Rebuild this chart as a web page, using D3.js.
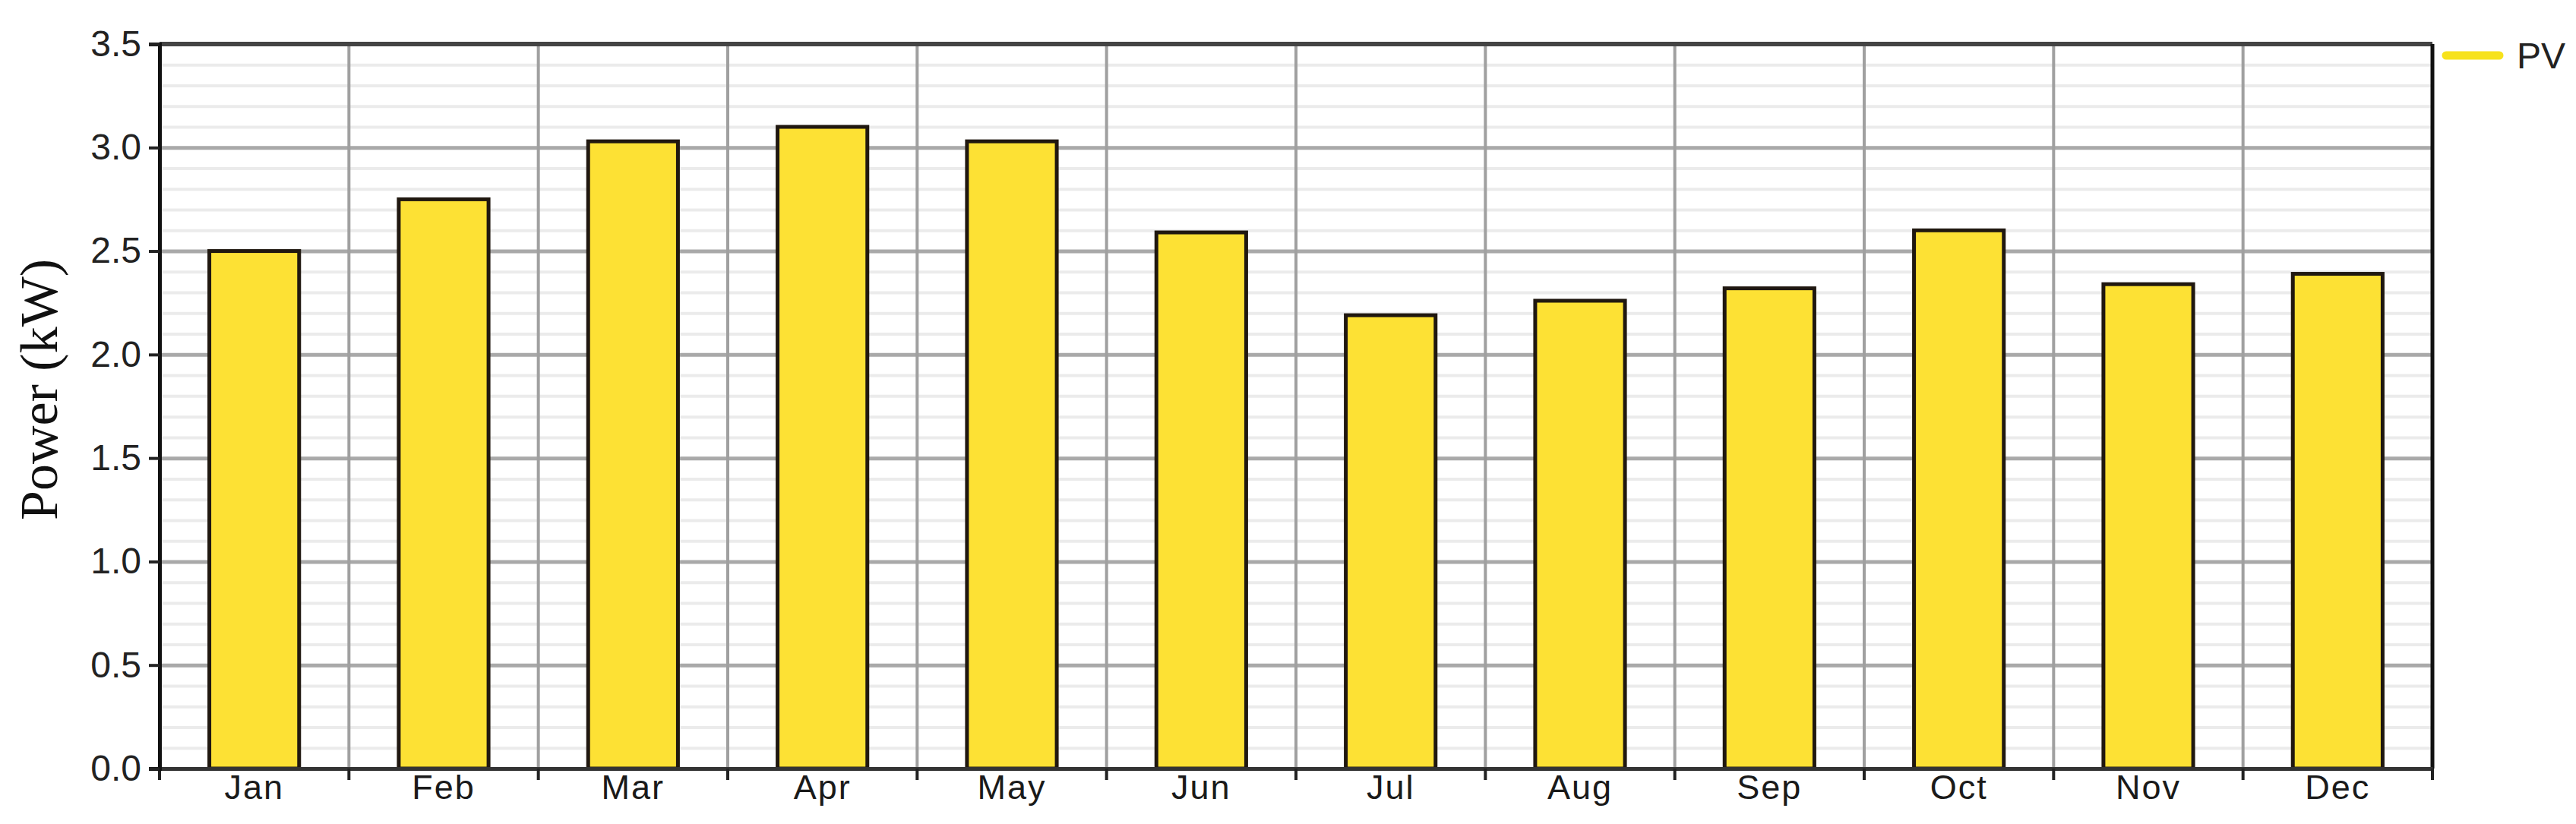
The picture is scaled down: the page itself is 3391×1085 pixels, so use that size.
<!DOCTYPE html>
<html>
<head>
<meta charset="utf-8">
<script src="https://cdn.jsdelivr.net/npm/d3@7"></script>
<style>
  body { margin: 0; background: #ffffff; }
  svg { display: block; }
</style>
</head>
<body>
<div id="chart"></div>
<script>
// values
var months = ["Jan", "Feb", "Mar", "Apr", "May", "Jun", "Jul", "Aug", "Sep", "Oct", "Nov", "Dec"];
var pvPower = [2.5, 2.75, 3.03, 3.1, 3.03, 2.59, 2.19, 2.26, 2.32, 2.6, 2.34, 2.39];
var yTicks = [0, 0.5, 1.0, 1.5, 2.0, 2.5, 3.0, 3.5];
var seriesName = "PV";
var yTitle = "Power (kW)";

var data = months.map(function (m, i) { return { month: m, value: pvPower[i] }; });

var margin = { top: 58, right: 189, bottom: 73, left: 210 },
    width = 3391 - margin.left - margin.right,
    height = 1085 - margin.top - margin.bottom;

var root = d3.select("#chart")
    .append("svg")
    .attr("width", width + margin.left + margin.right)
    .attr("height", height + margin.top + margin.bottom)
    .style("background-color", "#ffffff");

var svg = root.append("g")
    .attr("transform", "translate(" + margin.left + "," + margin.top + ")");

// one band per month, no padding -> grid cells
var xCell = d3.scaleBand()
    .domain(months)
    .range([0, width]);

// bars sit in the middle of each cell
var x = d3.scaleBand()
    .domain(months)
    .range([0, width])
    .paddingInner(0.526)
    .paddingOuter(0.263);

var y = d3.scaleLinear()
    .domain([0, 3.5])
    .range([height, 0]);

// minor horizontal grid every 0.1
var minorTicks = d3.range(1, 35).map(function (d) { return d / 10; })
    .filter(function (d) { return Math.round(d * 10) % 5 !== 0; });

svg.append("g")
    .attr("class", "minor grid")
    .call(d3.axisLeft(y).tickValues(minorTicks).tickSize(-width).tickFormat(""))
    .call(function (g) { g.select(".domain").remove(); })
    .selectAll("line")
    .attr("stroke", "#ebebeb")
    .attr("stroke-width", 4);

// major horizontal grid
svg.append("g")
    .attr("class", "y grid")
    .call(d3.axisLeft(y).tickValues(yTicks).tickSize(-width).tickFormat(""))
    .call(function (g) { g.select(".domain").remove(); })
    .selectAll("line")
    .attr("stroke", "#a9a9a9")
    .attr("stroke-width", 5);

// vertical grid at month boundaries
var boundaries = months.slice(1).map(function (m) { return xCell(m); });

svg.append("g")
    .attr("class", "x grid")
    .selectAll("line")
    .data(boundaries)
    .enter().append("line")
    .attr("x1", function (d) { return d; })
    .attr("x2", function (d) { return d; })
    .attr("y1", 0)
    .attr("y2", height)
    .attr("stroke", "#a0a0a0")
    .attr("stroke-width", 4);

// bars
svg.selectAll("rect.bar")
    .data(data)
    .enter().append("rect")
    .attr("class", "bar")
    .attr("x", function (d) { return x(d.month); })
    .attr("y", function (d) { return y(d.value); })
    .attr("width", x.bandwidth())
    .attr("height", function (d) { return height - y(d.value); })
    .attr("fill", "#fde134")
    .attr("stroke", "#201810")
    .attr("stroke-width", 5);

// top and right frame
svg.append("line")
    .attr("x1", 0).attr("x2", width)
    .attr("y1", 0).attr("y2", 0)
    .attr("stroke", "#444")
    .attr("stroke-width", 6);

svg.append("line")
    .attr("x1", width).attr("x2", width)
    .attr("y1", 0).attr("y2", height)
    .attr("stroke", "#111")
    .attr("stroke-width", 5);

// x axis: labels centred, ticks at the cell edges
var xAxis = svg.append("g")
    .attr("transform", "translate(0," + height + ")")
    .call(d3.axisBottom(xCell).tickSize(0).tickPadding(8));

xAxis.select(".domain")
    .attr("stroke", "#333")
    .attr("stroke-width", 5);

xAxis.selectAll("text")
    .attr("font-family", "Liberation Sans, Arial, sans-serif")
    .attr("font-size", "45px")
    .attr("letter-spacing", "2px")
    .attr("fill", "#1a1a1a");

xAxis.selectAll("line.edge")
    .data([0].concat(boundaries).concat([width]))
    .enter().append("line")
    .attr("class", "edge")
    .attr("x1", function (d) { return d; })
    .attr("x2", function (d) { return d; })
    .attr("y1", 0)
    .attr("y2", 15)
    .attr("stroke", "#222")
    .attr("stroke-width", 4);

// y axis
var yAxis = svg.append("g")
    .call(d3.axisLeft(y).tickValues(yTicks).tickSize(14).tickPadding(10)
        .tickFormat(d3.format(".1f")));

yAxis.select(".domain")
    .attr("stroke", "#111")
    .attr("stroke-width", 5);

yAxis.selectAll(".tick line")
    .attr("stroke", "#222")
    .attr("stroke-width", 4);

yAxis.selectAll("text")
    .attr("font-family", "Liberation Sans, Arial, sans-serif")
    .attr("font-size", "48px")
    .attr("fill", "#222");

// y title
svg.append("text")
    .attr("text-anchor", "middle")
    .attr("transform", "rotate(-90)")
    .attr("x", -(513 - margin.top))
    .attr("y", -135)
    .attr("font-family", "Liberation Serif, Times New Roman, serif")
    .attr("font-size", "70px")
    .attr("fill", "#111")
    .text(yTitle);

// legend
var legend = root.append("g")
    .attr("transform", "translate(" + (margin.left + width + 18) + ",73)");

legend.append("line")
    .attr("x1", 0).attr("x2", 70)
    .attr("y1", 0).attr("y2", 0)
    .attr("stroke", "#f7e21c")
    .attr("stroke-width", 11)
    .attr("stroke-linecap", "round");

legend.append("text")
    .attr("x", 93)
    .attr("y", 0)
    .attr("dy", "0.36em")
    .attr("font-family", "Liberation Sans, Arial, sans-serif")
    .attr("font-size", "48px")
    .attr("fill", "#222")
    .text(seriesName);
</script>
</body>
</html>
